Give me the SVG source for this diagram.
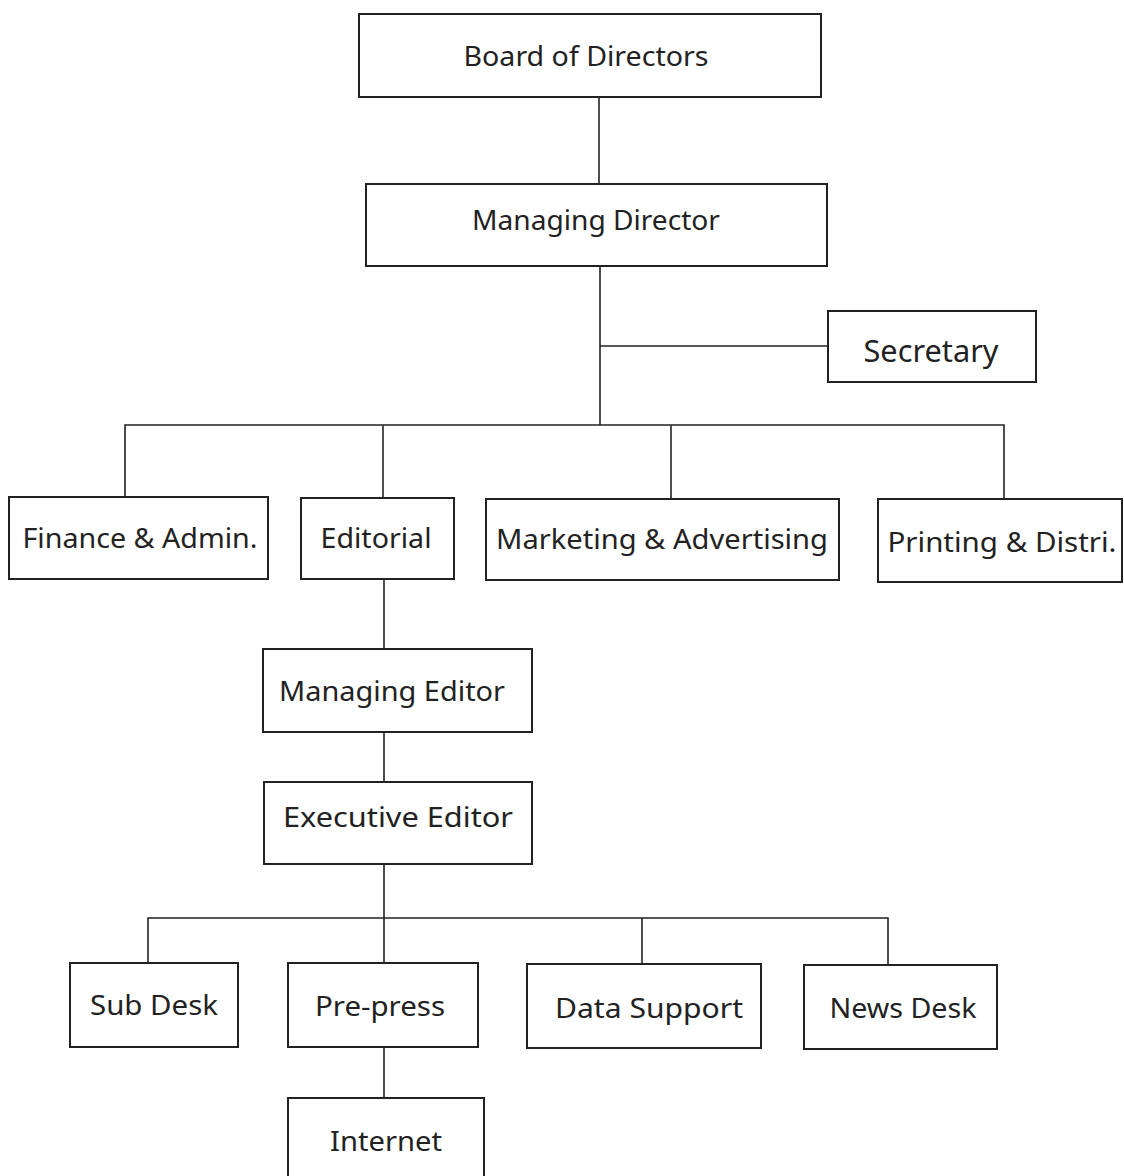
<svg xmlns="http://www.w3.org/2000/svg" width="1124" height="1176" viewBox="0 0 1124 1176">
<style>
.box{fill:#fff;stroke:#222;stroke-width:2}
.lbl{font-family:"Noto Sans","Liberation Sans",sans-serif;font-size:28px;fill:#222;text-anchor:middle}
.big{font-size:30px}
.con{stroke:#222;stroke-width:1.6;fill:none}
</style>
<rect width="1124" height="1176" fill="#fff"/>
<g id="connectors">
<line class="con" x1="599" y1="97" x2="599" y2="184"/>
<line class="con" x1="600" y1="266" x2="600" y2="425"/>
<line class="con" x1="600" y1="346" x2="828" y2="346"/>
<polyline class="con" points="125,497 125,425 1004,425 1004,499"/>
<line class="con" x1="383" y1="425" x2="383" y2="498"/>
<line class="con" x1="671" y1="425" x2="671" y2="499"/>
<line class="con" x1="384" y1="579" x2="384" y2="649"/>
<line class="con" x1="384" y1="732" x2="384" y2="782"/>
<line class="con" x1="384" y1="864" x2="384" y2="963"/>
<polyline class="con" points="148,963 148,918 888,918 888,965"/>
<line class="con" x1="642" y1="918" x2="642" y2="964"/>
<line class="con" x1="384" y1="1047" x2="384" y2="1098"/>
</g>
<g id="board"><rect class="box" x="359" y="14" width="462" height="83"/><text class="lbl" x="586" y="66" textLength="245" lengthAdjust="spacingAndGlyphs">Board of Directors</text></g>
<g id="managing-director"><rect class="box" x="366" y="184" width="461" height="82"/><text class="lbl" x="596" y="230" textLength="248" lengthAdjust="spacingAndGlyphs">Managing Director</text></g>
<g id="secretary"><rect class="box" x="828" y="311" width="208" height="71"/><text class="lbl big" x="931" y="362" textLength="135" lengthAdjust="spacingAndGlyphs">Secretary</text></g>
<g id="finance"><rect class="box" x="9" y="497" width="259" height="82"/><text class="lbl" x="140" y="548" textLength="235" lengthAdjust="spacingAndGlyphs">Finance &amp; Admin.</text></g>
<g id="editorial"><rect class="box" x="301" y="498" width="153" height="81"/><text class="lbl" x="376" y="548" textLength="111" lengthAdjust="spacingAndGlyphs">Editorial</text></g>
<g id="marketing"><rect class="box" x="486" y="499" width="353" height="81"/><text class="lbl" x="662" y="549" textLength="332" lengthAdjust="spacingAndGlyphs">Marketing &amp; Advertising</text></g>
<g id="printing"><rect class="box" x="878" y="499" width="244" height="83"/><text class="lbl" x="1002" y="552" textLength="229" lengthAdjust="spacingAndGlyphs">Printing &amp; Distri.</text></g>
<g id="managing-editor"><rect class="box" x="263" y="649" width="269" height="83"/><text class="lbl" x="392" y="701" textLength="226" lengthAdjust="spacingAndGlyphs">Managing Editor</text></g>
<g id="executive-editor"><rect class="box" x="264" y="782" width="268" height="82"/><text class="lbl" x="398" y="827" textLength="230" lengthAdjust="spacingAndGlyphs">Executive Editor</text></g>
<g id="sub-desk"><rect class="box" x="70" y="963" width="168" height="84"/><text class="lbl" x="154" y="1015" textLength="128" lengthAdjust="spacingAndGlyphs">Sub Desk</text></g>
<g id="pre-press"><rect class="box" x="288" y="963" width="190" height="84"/><text class="lbl" x="380" y="1016" textLength="130" lengthAdjust="spacingAndGlyphs">Pre-press</text></g>
<g id="data-support"><rect class="box" x="527" y="964" width="234" height="84"/><text class="lbl" x="649" y="1018" textLength="188" lengthAdjust="spacingAndGlyphs">Data Support</text></g>
<g id="news-desk"><rect class="box" x="804" y="965" width="193" height="84"/><text class="lbl" x="903" y="1018" textLength="147" lengthAdjust="spacingAndGlyphs">News Desk</text></g>
<g id="internet"><rect class="box" x="288" y="1098" width="196" height="90"/><text class="lbl" x="386" y="1151" textLength="112" lengthAdjust="spacingAndGlyphs">Internet</text></g>
</svg>
